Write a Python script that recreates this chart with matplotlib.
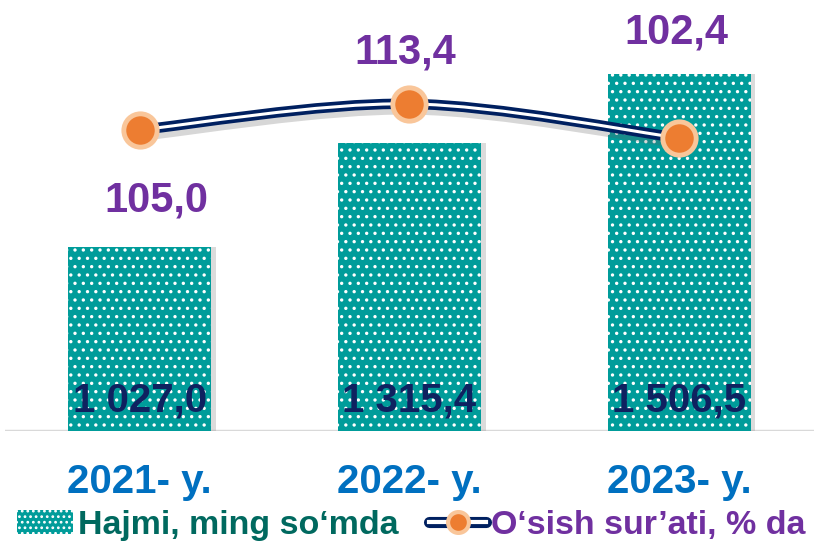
import matplotlib
matplotlib.use('Agg')
import matplotlib.pyplot as plt
import matplotlib.patheffects as pe
from matplotlib.path import Path
from matplotlib.patches import PathPatch, Rectangle
from matplotlib.lines import Line2D
from matplotlib.legend_handler import HandlerTuple
import numpy as np

plt.rcParams['font.family'] = ['Liberation Sans', 'DejaVu Sans']
plt.rcParams['font.weight'] = 'bold'
plt.rcParams['hatch.linewidth'] = 1.2

# данные
years = ['2021- y.', '2022- y.', '2023- y.']
volume = [1027.0, 1315.4, 1506.5]          # Hajmi, ming so'mda
growth = [105.0, 113.4, 102.4]             # O'sish sur'ati, % da
volume_labels = ['1 027,0', '1 315,4', '1 506,5']
growth_labels = ['105,0', '113,4', '102,4']

teal = '#009C9A'
navy = '#002060'
purple = '#7030A0'
orange = '#ED7D31'
peach = '#F9C69A'

fig = plt.figure(figsize=(8.14, 5.44), dpi=100)
ax = fig.add_axes([0.006, 0.208, 0.994, 0.792])
x = np.arange(len(years))

# тени столбцов
for xi, v in zip(x, volume):
    ax.bar(xi + 0.018, v - 520 + 6, bottom=520 - 6, width=0.53, color='#9A9A9A', alpha=0.35,
           lw=0, zorder=1.5)
bars = ax.bar(x, volume, width=0.53, color=teal, edgecolor='white', linewidth=0,
              hatch='..', zorder=2)
ax.set_ylim(520, 1710)
ax.set_xlim(-0.5, 2.5)
for s in ax.spines.values():
    s.set_visible(False)
ax.axhline(520, color='#D9D9D9', lw=2.5, zorder=1)
ax.set_yticks([])
ax.set_xticks(x, years)
ax.tick_params(axis='x', length=0, pad=23, labelsize=29, labelcolor='#0070C0')

# подписи столбцов
for xi, lab in zip(x, volume_labels):
    ax.annotate(lab, (xi, 520), xytext=(0, 22), textcoords='offset points',
                ha='center', va='center', fontsize=29, color='#0F2260',
                fontweight='bold', zorder=5)

# линия темпа роста
ax2 = ax.twinx()
ax2.set_ylim(7.9, 146.9)
ax2.set_yticks([])
for s in ax2.spines.values():
    s.set_visible(False)

pts = np.column_stack([x, growth]).astype(float)
ext = np.vstack([pts[0], pts, pts[-1]])
verts = [tuple(pts[0])]
codes = [Path.MOVETO]
for i in range(len(pts) - 1):
    p0, p1, p2, p3 = ext[i], ext[i + 1], ext[i + 2], ext[i + 3]
    c1 = p1 + (p2 - p0) / 6
    c2 = p2 - (p3 - p1) / 6
    verts += [tuple(c1), tuple(c2), tuple(p2)]
    codes += [Path.CURVE4] * 3
path = Path(verts, codes)
outer = PathPatch(path, fill=False, edgecolor=navy, lw=7.5, capstyle='round', zorder=3,
                  path_effects=[pe.SimpleLineShadow(offset=(2, -4), shadow_color='#606060', alpha=0.25),
                                pe.Normal()])
inner = PathPatch(path, fill=False, edgecolor='white', lw=2.2, zorder=4)
ax2.add_patch(outer)
ax2.add_patch(inner)
ax2.plot(x, growth, ls='none', marker='o', ms=24, mfc=orange, mec=peach, mew=3.5, zorder=6)

offsets = [(12, -51), (-3, 37), (-2, 76)]
for xi, yi, lab, off in zip(x, growth, growth_labels, offsets):
    ax2.annotate(lab, (xi, yi), xytext=off, textcoords='offset points',
                 ha='center', va='center', fontsize=30, color=purple, fontweight='bold')

# легенда
h_bar = Rectangle((0, 0), 1, 1, facecolor=teal, edgecolor='white', lw=0, hatch='...')
h_l1 = Line2D([], [], color=navy, lw=8, solid_capstyle='round')
h_l2 = Line2D([], [], color='white', lw=3)
h_m = Line2D([], [], ls='none', marker='o', ms=15, mfc=orange, mec=peach, mew=3)
leg = fig.legend([h_bar, (h_l1, h_l2, h_m)], ['Hajmi, ming so‘mda', 'O‘sish sur’ati, % da'],
                 handler_map={tuple: HandlerTuple(ndivide=1)},
                 loc='lower center', bbox_to_anchor=(0.505, -0.05), ncol=2, frameon=False,
                 fontsize=24.5, handlelength=1.65, handleheight=0.7, handletextpad=0.15,
                 columnspacing=0.9, labelcolor=['#00695F', purple])
for t in leg.get_texts():
    t.set_fontweight('bold')

fig.savefig('out.png', dpi=100)
